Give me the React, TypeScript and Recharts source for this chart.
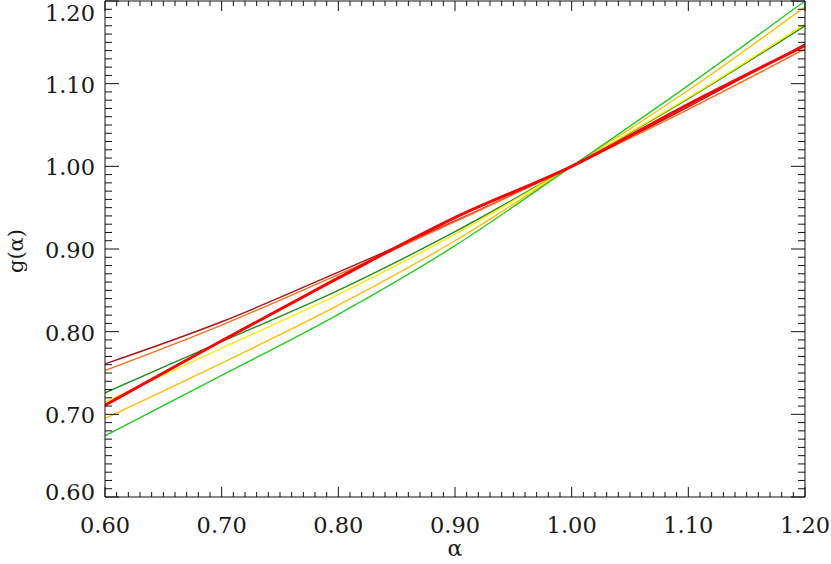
import { LineChart, Line, XAxis, YAxis } from "recharts";

// alpha sample points
const alpha = [0.6, 0.7, 0.8, 0.9, 1.0, 1.1, 1.2];

// g(alpha) curves
const gDarkRed = [0.761, 0.812, 0.872, 0.934, 1.0, 1.072, 1.148];
const gOrange = [0.753, 0.808, 0.869, 0.933, 1.0, 1.069, 1.142];
const gDarkGreen = [0.726, 0.788, 0.85, 0.921, 1.0, 1.082, 1.17];
const gYellow = [0.715, 0.78, 0.845, 0.918, 1.0, 1.083, 1.172];
const gGold = [0.695, 0.762, 0.832, 0.91, 1.0, 1.092, 1.193];
const gLime = [0.674, 0.747, 0.821, 0.904, 1.0, 1.098, 1.2];
const gRed = [0.711, 0.789, 0.865, 0.938, 1.0, 1.075, 1.146];

const majorTicks = [0.6, 0.7, 0.8, 0.9, 1.0, 1.1, 1.2];
const tickLabels = ["0.60", "0.70", "0.80", "0.90", "1.00", "1.10", "1.20"];

const series = [
  { key: "darkRed", values: gDarkRed, color: "#a8141b", width: 1.4 },
  { key: "orange", values: gOrange, color: "#ff6e1a", width: 1.4 },
  { key: "darkGreen", values: gDarkGreen, color: "#1f8c1f", width: 1.4 },
  { key: "yellow", values: gYellow, color: "#ffee00", width: 1.4 },
  { key: "gold", values: gGold, color: "#ffbf00", width: 1.4 },
  { key: "lime", values: gLime, color: "#22cc22", width: 1.4 },
  { key: "red", values: gRed, color: "#ff0000", width: 3 },
];

const data = alpha.map((a, i) => {
  const row: Record<string, number> = { alpha: a };
  series.forEach((s) => (row[s.key] = s.values[i]));
  return row;
});

// 10 minor intervals per major step
const allTicks: number[] = [];
majorTicks.slice(0, -1).forEach((m, i) => {
  const step = (majorTicks[i + 1] - m) / 10;
  for (let k = 0; k < 10; k++) allTicks.push(+(m + k * step).toFixed(3));
});
allTicks.push(majorTicks[majorTicks.length - 1]);

const FONT = "DejaVu Serif";
const W = 831;
const H = 564;
const LEFT = 105;
const RIGHT_W = 26;
const BOTTOM_H = 67;
const TOP_H = 1;

type Side = "bottom" | "top" | "left" | "right";

function makeTick(side: Side) {
  return (props: any) => {
    const { x, y, payload } = props;
    const idx = majorTicks.findIndex((m) => Math.abs(m - payload.value) < 1e-6);
    const major = idx >= 0;
    const horiz = side === "bottom" || side === "top";
    const len = horiz ? (major ? 10 : 5) : major ? 14 : 7;
    let line;
    if (side === "bottom") line = <line x1={x} x2={x} y1={y} y2={y - len} />;
    else if (side === "top") line = <line x1={x} x2={x} y1={y} y2={y + len} />;
    else if (side === "left") line = <line x1={x} x2={x + len} y1={y} y2={y} />;
    else line = <line x1={x} x2={x - len} y1={y} y2={y} />;
    let label = null;
    if (major && side === "bottom") {
      label = (
        <text x={x} y={y + 36} textAnchor="middle" fontFamily={FONT} fontSize={22.5} fill="#1a1a1a">
          {tickLabels[idx]}
        </text>
      );
    } else if (major && side === "left") {
      // edge labels are pulled inside the frame
      const base = Math.min(Math.max(y + 9, 21), 499.5);
      label = (
        <text x={x - 10} y={base} textAnchor="end" fontFamily={FONT} fontSize={22.5} fill="#1a1a1a">
          {tickLabels[idx]}
        </text>
      );
    }
    return (
      <g>
        <g stroke="#111" strokeWidth={1}>{line}</g>
        {label}
      </g>
    );
  };
}

const axisCommon = {
  type: "number" as const,
  domain: [0.6, 1.2],
  ticks: allTicks,
  interval: 0 as const,
  tickSize: 0,
  tickMargin: 0,
  tickLine: false,
  allowDataOverflow: true,
  axisLine: { stroke: "#111", strokeWidth: 1 },
};

export default function App() {
  return (
    <div style={{ position: "absolute", left: 0, top: 0, width: W, height: H, background: "#fff" }}>
      <LineChart width={W} height={H} data={data} margin={{ top: 0, right: 0, bottom: 0, left: 0 }}>
        <XAxis xAxisId="b" dataKey="alpha" orientation="bottom" height={BOTTOM_H} {...axisCommon} tick={makeTick("bottom")} />
        <XAxis xAxisId="t" dataKey="alpha" orientation="top" height={TOP_H} {...axisCommon} tick={makeTick("top")} />
        <YAxis yAxisId="l" orientation="left" width={LEFT} {...axisCommon} tick={makeTick("left")} />
        <YAxis yAxisId="r" orientation="right" width={RIGHT_W} {...axisCommon} tick={makeTick("right")} />
        {series.map((s) => (
          <Line
            key={s.key}
            xAxisId="b"
            yAxisId="l"
            type="monotone"
            dataKey={s.key}
            stroke={s.color}
            strokeWidth={s.width}
            dot={false}
            activeDot={false}
            isAnimationActive={false}
          />
        ))}
        <text x={455} y={556} textAnchor="middle" fontFamily={FONT} fontSize={22} fill="#1a1a1a">
          α
        </text>
        <text
          x={23}
          y={251}
          textAnchor="middle"
          fontFamily={FONT}
          fontSize={21}
          fill="#1a1a1a"
          transform="rotate(-90, 23, 251)"
        >
          g(α)
        </text>
      </LineChart>
    </div>
  );
}
